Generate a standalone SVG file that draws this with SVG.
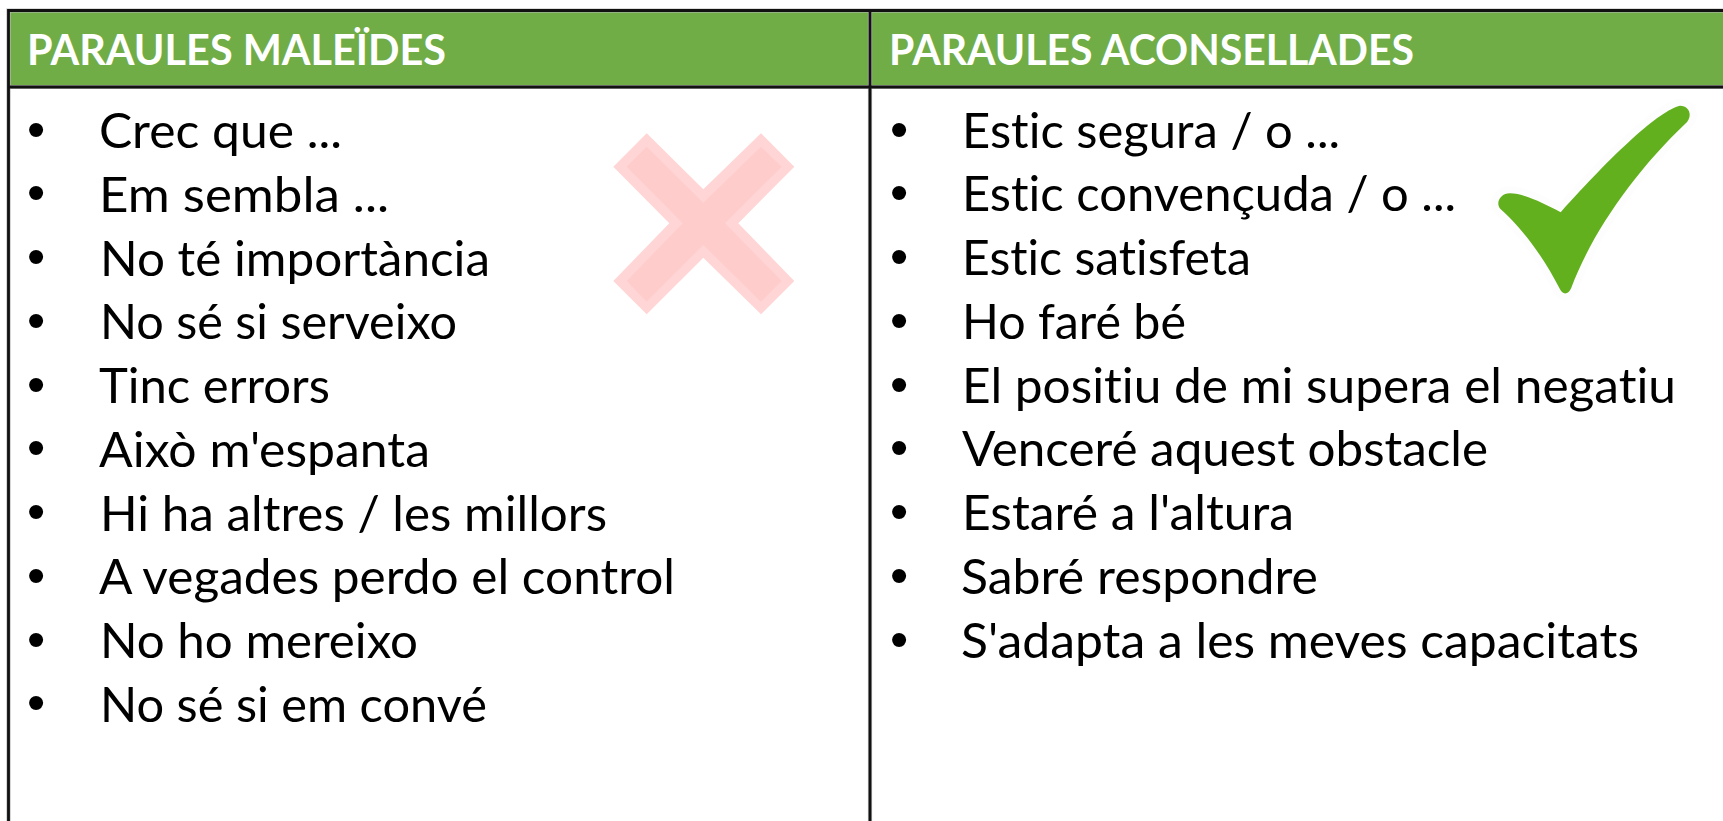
<svg xmlns="http://www.w3.org/2000/svg" width="1723" height="821" viewBox="0 0 1723 821">
<style>
text{font-family:"Lato","Carlito","Liberation Sans",sans-serif;font-variant-ligatures:none}
.h{font-size:42px;font-weight:700;fill:#fff}
.t{font-size:48px;fill:#000}
.b{font-size:52px;fill:#000;font-family:"Liberation Sans",sans-serif}
.l{stroke:#111;stroke-width:2.8;fill:none}
.g{stroke:#bbb;stroke-width:4.2;fill:none}
</style>
<rect width="1723" height="821" fill="#fff"/>
<g id="header-left"><rect x="9" y="11" width="861" height="76" fill="#70AD47"/>
<text class="h" x="27" y="65" textLength="419" lengthAdjust="spacingAndGlyphs">PARAULES MALEÏDES</text></g>
<g id="header-right"><rect x="870" y="11" width="853" height="76" fill="#70AD47"/>
<text class="h" x="889" y="65" textLength="525" lengthAdjust="spacingAndGlyphs">PARAULES ACONSELLADES</text></g>
<g id="cross"><polygon fill="#FFD5D5" points="646.7,133.3 703.3,189.3 761,133.3 794.3,166.7 738.3,223.3 794.3,281 761,314.3 703.3,257.7 646.7,314.3 613.3,281 669.3,223.3 613.3,166.7"/>
<polygon fill="#FFCCCC" points="646.7,146.7 703.3,202.7 761,146.7 781.7,166.7 725,223.3 781.7,281 761,301.7 703.3,245 646.7,301.7 626.7,281 682.7,223.3 626.7,166.7"/></g>
<g id="check"><path fill="#63B01E" stroke="#FDFDFD" stroke-width="14" paint-order="stroke" d="M1560.7,212.3C1613.3,153.3 1660,110 1680,105.7C1690,105.7 1693.3,116.7 1685,124C1636.7,170 1593.3,230 1571.7,286.7C1569.3,294 1563.3,296 1560,289.3C1540,250 1516.7,223.3 1500.7,209.3C1495,203.3 1500,193.3 1510,193.3C1523.3,193.3 1543.3,203.3 1560.7,212.3Z"/></g>
<g id="list-left">
<text class="b" x="27" y="146.5">•</text><text class="t" x="99" y="148" textLength="243" lengthAdjust="spacingAndGlyphs">Crec que ...</text>
<text class="b" x="27" y="210.3">•</text><text class="t" x="99" y="211.8" textLength="290" lengthAdjust="spacingAndGlyphs">Em sembla ...</text>
<text class="b" x="27" y="274">•</text><text class="t" x="100" y="275.5" textLength="390" lengthAdjust="spacingAndGlyphs">No té importància</text>
<text class="b" x="27" y="337.8">•</text><text class="t" x="100" y="339.3" textLength="357" lengthAdjust="spacingAndGlyphs">No sé si serveixo</text>
<text class="b" x="27" y="401.5">•</text><text class="t" x="99" y="403" textLength="231" lengthAdjust="spacingAndGlyphs">Tinc errors</text>
<text class="b" x="27" y="465.3">•</text><text class="t" x="99" y="466.8" textLength="331" lengthAdjust="spacingAndGlyphs">Això m'espanta</text>
<text class="b" x="27" y="529">•</text><text class="t" x="100" y="530.5" textLength="507" lengthAdjust="spacingAndGlyphs">Hi ha altres / les millors</text>
<text class="b" x="27" y="592.8">•</text><text class="t" x="99" y="594.3" textLength="576" lengthAdjust="spacingAndGlyphs">A vegades perdo el control</text>
<text class="b" x="27" y="656.5">•</text><text class="t" x="100" y="658" textLength="318" lengthAdjust="spacingAndGlyphs">No ho mereixo</text>
<text class="b" x="27" y="720.3">•</text><text class="t" x="100" y="721.8" textLength="387" lengthAdjust="spacingAndGlyphs">No sé si em convé</text>
</g>
<g id="list-right">
<text class="b" x="890" y="146.5">•</text><text class="t" x="962" y="147.5" textLength="378" lengthAdjust="spacingAndGlyphs">Estic segura / o ...</text>
<text class="b" x="890" y="210.3">•</text><text class="t" x="962" y="211.3" textLength="494" lengthAdjust="spacingAndGlyphs">Estic convençuda / o ...</text>
<text class="b" x="890" y="274">•</text><text class="t" x="962" y="275" textLength="289" lengthAdjust="spacingAndGlyphs">Estic satisfeta</text>
<text class="b" x="890" y="337.8">•</text><text class="t" x="962" y="338.8" textLength="224" lengthAdjust="spacingAndGlyphs">Ho faré bé</text>
<text class="b" x="890" y="401.5">•</text><text class="t" x="962" y="402.5" textLength="714" lengthAdjust="spacingAndGlyphs">El positiu de mi supera el negatiu</text>
<text class="b" x="890" y="465.3">•</text><text class="t" x="962" y="466.3" textLength="526" lengthAdjust="spacingAndGlyphs">Venceré aquest obstacle</text>
<text class="b" x="890" y="529">•</text><text class="t" x="962" y="530" textLength="332" lengthAdjust="spacingAndGlyphs">Estaré a l'altura</text>
<text class="b" x="890" y="592.8">•</text><text class="t" x="961" y="593.8" textLength="357" lengthAdjust="spacingAndGlyphs">Sabré respondre</text>
<text class="b" x="890" y="656.5">•</text><text class="t" x="961" y="657.5" textLength="678" lengthAdjust="spacingAndGlyphs">S'adapta a les meves capacitats</text>
</g>
<g id="connectors"><path class="g" d="M8.5,821V10.5H1723M8.5,87H1723M870,10.5V821"/><path class="l" d="M8.5,821V10.5H1723M8.5,87H1723M870,10.5V821"/></g>
</svg>
